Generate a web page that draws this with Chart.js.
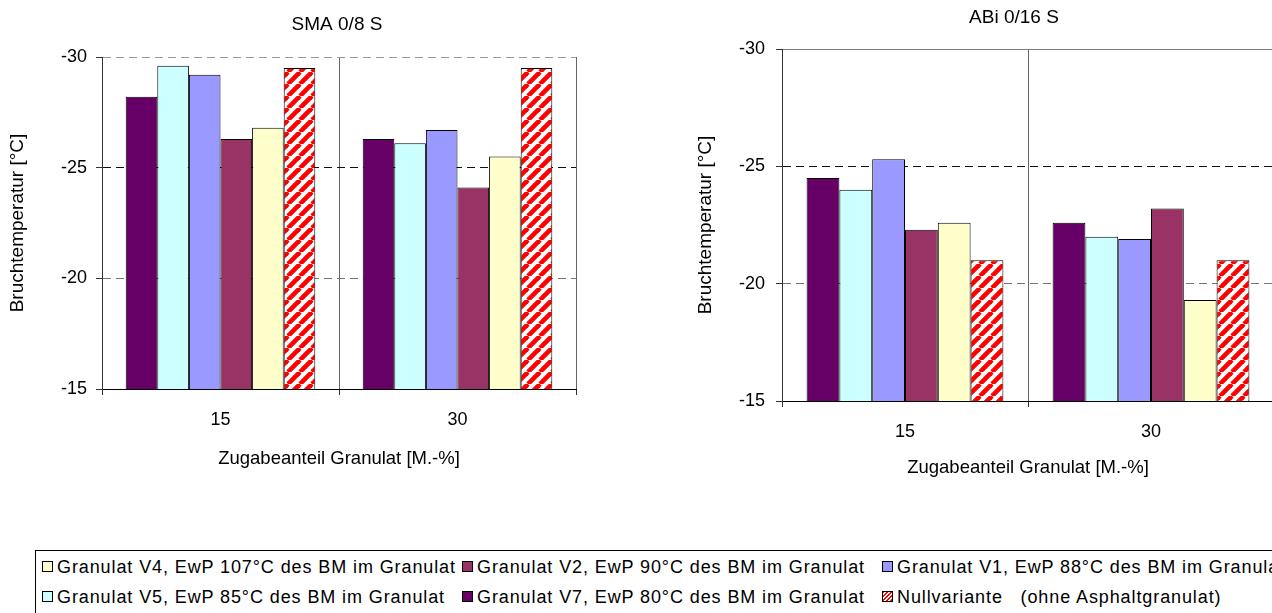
<!DOCTYPE html>
<html>
<head>
<meta charset="utf-8">
<script src="https://cdn.jsdelivr.net/npm/chart.js@4.4.1/dist/chart.umd.min.js"></script>
<style>
  html, body { margin:0; padding:0; background:#fff; }
  body { width:1272px; height:613px; overflow:hidden; position:relative; font-family:"Liberation Sans", Arial, sans-serif; }
  canvas { position:absolute; top:0; }
  #legendBox { position:absolute; left:35px; top:550px; width:1300px; height:100px; border:1px solid #000; box-sizing:border-box; }
  .li { position:absolute; font-size:18px; line-height:20px; white-space:pre; color:#000; letter-spacing:0.9px; }
  .sw { position:absolute; width:11px; height:11px; border:1px solid #000; box-sizing:border-box; }
</style>
</head>
<body>
<canvas id="c1" width="600" height="520" style="left:0px;"></canvas>
<canvas id="c2" width="600" height="520" style="left:680px;"></canvas>
<div id="legendBox"></div>
<script>
// ---- data ----
const categories = ['15', '30'];
const yTicks = [-30, -25, -20, -15];
const seriesNames = [
  'Granulat V7, EwP 80°C des BM im Granulat',
  'Granulat V5, EwP 85°C des BM im Granulat',
  'Granulat V1, EwP 88°C des BM im Granulat',
  'Granulat V2, EwP 90°C des BM im Granulat',
  'Granulat V4, EwP 107°C des BM im Granulat',
  'Nullvariante   (ohne Asphaltgranulat)'
];
const seriesColors = ['#660066', '#CCFFFF', '#9999FF', '#993366', '#FFFFCC', 'hatch'];
const legendOrder = [4, 3, 2, 1, 0, 5];

// SMA 0/8 S
const smaV7 = [-28.2, -26.3];
const smaV5 = [-29.6, -26.1];
const smaV1 = [-29.2, -26.7];
const smaV2 = [-26.3, -24.1];
const smaV4 = [-26.8, -25.5];
const smaNull = [-29.5, -29.5];
// ABi 0/16 S
const abiV7 = [-24.5, -22.6];
const abiV5 = [-24.0, -22.0];
const abiV1 = [-25.3, -21.9];
const abiV2 = [-22.3, -23.2];
const abiV4 = [-22.6, -19.3];
const abiNull = [-21.0, -21.0];

const smaSeries = [smaV7, smaV5, smaV1, smaV2, smaV4, smaNull];
const abiSeries = [abiV7, abiV5, abiV1, abiV2, abiV4, abiNull];

// ---- hatch pattern ----
function makeHatch(size, lw) {
  const c = document.createElement('canvas');
  c.width = size; c.height = size;
  const x = c.getContext('2d');
  x.fillStyle = '#fff'; x.fillRect(0, 0, size, size);
  x.strokeStyle = '#ff0000'; x.lineWidth = lw;
  for (let k = -1; k <= 1; k++) {
    x.beginPath();
    x.moveTo(k * size, size);
    x.lineTo(k * size + size, 0);
    x.stroke();
  }
  return c;
}
const hatchCanvas = makeHatch(12, 4.6);

Chart.defaults.font.family = '"Liberation Sans", Arial, sans-serif';
Chart.defaults.color = '#000';

const chartTitlePlugin = {
  id: 'ctitle',
  afterDraw(chart, args, opts) {
    const c = chart.ctx;
    c.save();
    c.font = opts.size + 'px "Liberation Sans", Arial, sans-serif';
    c.fillStyle = '#000';
    c.textAlign = 'center';
    c.textBaseline = 'middle';
    c.fillText(opts.text, opts.x, opts.y);
    c.restore();
  }
};

function buildChart(id, title, series, cfg) {
  const ctx = document.getElementById(id).getContext('2d');
  const pattern = ctx.createPattern(hatchCanvas, 'repeat');
  const datasets = series.map((vals, i) => ({
    label: seriesNames[i],
    data: vals,
    backgroundColor: seriesColors[i] === 'hatch' ? pattern : seriesColors[i],
    borderColor: '#000',
    borderWidth: 1,
    borderSkipped: 'bottom',
    barPercentage: 1.0,
    categoryPercentage: 0.8
  }));
  return new Chart(ctx, {
    type: 'bar',
    data: { labels: categories, datasets },
    plugins: [chartTitlePlugin],
    options: {
      responsive: false,
      animation: false,
      devicePixelRatio: 1,
      layout: { padding: { left: 0, right: cfg.padRight, top: cfg.padTop, bottom: 0 } },
      plugins: {
        legend: { display: false },
        tooltip: { enabled: false },
        title: { display: false },
        ctitle: { text: title, x: cfg.titleX, y: cfg.titleY, size: 19 }
      },
      scales: {
        x: {
          type: 'category',
          offset: true,
          grid: { offset: true, color: '#666', lineWidth: 1, tickLength: 6, tickColor: '#333' },
          border: { color: '#000', width: 1 },
          ticks: { font: { size: 18 }, color: '#000', padding: cfg.xTickPad },
          title: {
            display: true, text: 'Zugabeanteil Granulat [M.-%]', color: '#000',
            font: { size: 18.5 }, padding: { top: 0, bottom: cfg.xTitleBottom }
          },
          afterFit: s => { s.height = cfg.xHeight; }
        },
        y: {
          type: 'linear',
          reverse: true,
          min: yTicks[0], max: yTicks[yTicks.length - 1],
          afterBuildTicks: s => { s.ticks = yTicks.map(v => ({ value: v })); },
          grid: {
            lineWidth: 1, tickLength: 6,
            color: c => {
              const v = c.tick ? c.tick.value : null;
              if (v === -30) return cfg.topColor;
              if (v === -25) return '#111';
              if (v === -20) return '#777';
              return '#000';
            },
            tickColor: '#333'
          },
          border: {
            color: '#333', width: 1,
            dash: c => {
              const v = c.tick ? c.tick.value : null;
              if (v === -25 || v === -20) return [8, 5];
              if (v === -30 && cfg.topDashed) return [8, 5];
              return [];
            }
          },
          ticks: { font: { size: 18 }, color: '#000', padding: cfg.yTickPad, callback: v => String(v) },
          title: {
            display: true, text: 'Bruchtemperatur [°C]', color: '#000',
            font: { size: 19 }, padding: { top: cfg.yTitleTop, bottom: 0 }
          },
          afterFit: s => { s.width = cfg.yWidth; }
        }
      }
    }
  });
}

buildChart('c1', 'SMA 0/8 S', smaSeries, {
  padRight: 24, padTop: 57, titleX: 337, titleY: 25, xTickPad: 14, xTitleBottom: 50,
  xHeight: 131, yWidth: 102, yTickPad: 9, yTitleTop: 6, topColor: '#999', topDashed: true
});
buildChart('c2', 'ABi 0/16 S', abiSeries, {
  padRight: 6, padTop: 49, titleX: 334, titleY: 18, xTickPad: 14, xTitleBottom: 41,
  xHeight: 119, yWidth: 102, yTickPad: 11, yTitleTop: 14, topColor: '#808080', topDashed: false
});

// ---- legend ----
const colX = [42, 462, 882];
const rowY = [567, 597];
legendOrder.forEach((si, k) => {
  const col = k % 3, row = Math.floor(k / 3);
  const sw = document.createElement('div');
  sw.className = 'sw';
  sw.style.left = colX[col] + 'px';
  sw.style.top = (rowY[row] - 6) + 'px';
  if (seriesColors[si] === 'hatch') {
    sw.style.background = 'repeating-linear-gradient(-45deg, #ff0000 0px, #ff0000 1.5px, #fff 1.5px, #fff 3px)';
  } else {
    sw.style.background = seriesColors[si];
  }
  document.body.appendChild(sw);
  const t = document.createElement('div');
  t.className = 'li';
  t.textContent = seriesNames[si];
  t.style.left = (colX[col] + 15) + 'px';
  t.style.top = (rowY[row] - 10) + 'px';
  document.body.appendChild(t);
});
</script>
</body>
</html>
